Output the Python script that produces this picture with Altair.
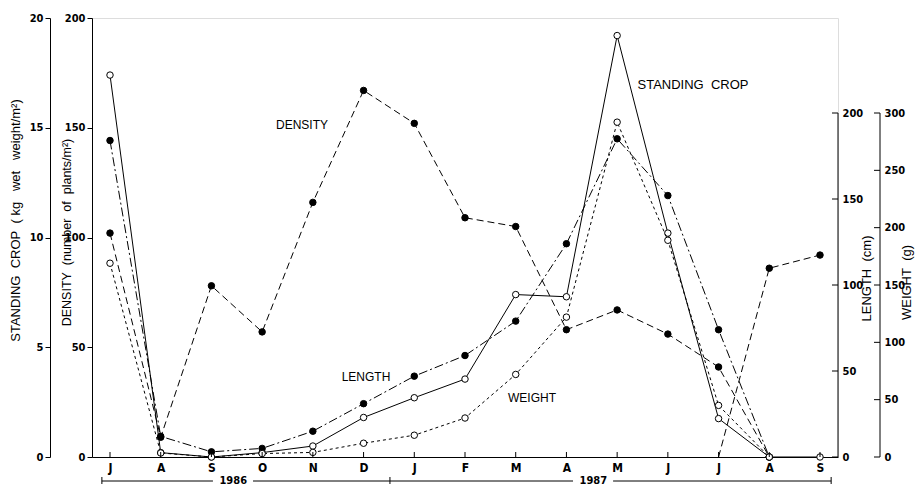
import json
import altair as alt
import pandas as pd

# ---------------- data ----------------
months = ["J", "A", "S", "O", "N", "D", "J", "F", "M", "A", "M", "J", "J", "A", "S"]
standing_crop = [17.4, 0.2, 0.0, 0.2, 0.5, 1.8, 2.7, 3.55, 7.4, 7.3, 19.2, 10.2, 1.75, 0.0, 0.0]
density = [102, 9, 78, 57, 116, 167, 152, 109, 105, 58, 67, 56, 41, 0, None]
density_new = [None] * 12 + [0, 86, 92]
length = [184, 12, 3, 5, 15, 31, 47, 59, 79, 124, 185, 152, 74, 0, None]
weight = [169, 3.5, 0, 3, 4, 12, 19, 34, 72, 122, 292, 189, 45, 0, None]

sc_ticks = [0, 5, 10, 15, 20]
density_ticks = [0, 50, 100, 150, 200]
length_ticks = [0, 50, 100, 150, 200]
weight_ticks = [0, 50, 100, 150, 200, 250, 300]

year_labels = ["1986", "1987"]

# ---------------- layout ----------------
W, H = 746, 439
FONT = "Liberation Sans"
NARROW = "'Liberation Sans Narrow', 'DejaVu Sans Condensed', 'Liberation Sans', sans-serif"
SP = "\u00a0"


def spaced(s, n=2):
    return s.replace(" ", SP * n)


def frame(values, seg=0):
    rows = [{"i": i, "v": v, "seg": seg} for i, v in enumerate(values) if v is not None]
    return pd.DataFrame(rows)


xscale = alt.Scale(domain=[-0.355, 14.355], nice=False, zero=False)
label_expr = "%s[datum.value]" % json.dumps(months)
xaxis = alt.Axis(values=list(range(len(months))), labelExpr=label_expr, ticks=False,
                 grid=False, title=None, domainColor="black", labelPadding=5,
                 labelFontSize=12, labelFont=NARROW, labelFontWeight="bold",
                 labelColor="black")
X = alt.X("i:Q", scale=xscale, axis=xaxis)

common_axis = dict(grid=False, labelFont=NARROW, labelFontSize=11, labelFontWeight="bold",
                   labelColor="black", titleColor="black", titleFont=FONT,
                   titleFontWeight="normal", titleAngle=270, titleAlign="center",
                   titleBaseline="middle", domainColor="black", tickColor="black")

open_pt = dict(shape="circle", filled=True, fill="white", stroke="black",
               strokeWidth=1, size=42, opacity=1)
full_pt = dict(shape="circle", filled=True, fill="black", stroke="black",
               strokeWidth=1, size=42, opacity=1)

# ---- standing crop (solid line, open circles) ----
sc_title = "STANDING" + SP * 2 + "CROP" + SP * 2 + "(" + SP + "kg" + SP * 3 + "wet" + SP * 3 + "weight/m²)"
sc_y = alt.Y("v:Q", scale=alt.Scale(domain=[0, 20], nice=False),
             axis=alt.Axis(orient="left", offset=42, values=sc_ticks, tickSize=5,
                           labelPadding=2, title=sc_title,
                           titleFontSize=13, titleX=-35, titleY=202, **common_axis))
sc_df = frame(standing_crop)
sc_layer = alt.layer(
    alt.Chart(sc_df).mark_line(color="black", strokeWidth=1).encode(x=X, y=sc_y),
    alt.Chart(sc_df).mark_point(**open_pt).encode(x=X, y=sc_y),
)

# ---- density (dashed, filled circles) ----
d_title = "DENSITY" + SP * 2 + "(number" + SP * 2 + "of" + SP * 2 + "plants/m²)"
d_y = alt.Y("v:Q", scale=alt.Scale(domain=[0, 200], nice=False),
            axis=alt.Axis(orient="left", offset=0, values=density_ticks, tickSize=5,
                          labelPadding=2, title=d_title,
                          titleFontSize=12.5, titleX=-26, titleY=214, **common_axis))
d_df = pd.concat([frame(density, 0), frame(density_new, 1)], ignore_index=True)
d_layer = alt.layer(
    alt.Chart(d_df).mark_line(color="black", strokeWidth=1, strokeDash=[7, 4]).encode(
        x=X, y=d_y, detail="seg:N"),
    alt.Chart(d_df).mark_point(**full_pt).encode(x=X, y=d_y).transform_filter(
        "datum.seg == 0 || datum.v > 0"),
)

# ---- length (dash-dot, filled circles), right axis ----
l_scale = alt.Scale(domain=[0, 200 * H / 344], nice=False)
l_y = alt.Y("v:Q", scale=l_scale,
            axis=alt.Axis(orient="right", offset=0, values=length_ticks, domain=False,
                          ticks=False, labelPadding=4, title="LENGTH" + SP * 2 + "(cm)",
                          titleFontSize=13, titleX=28, titleY=260, **common_axis))
l_df = frame(length)
l_layer = alt.layer(
    alt.Chart(l_df).mark_line(color="black", strokeWidth=1, strokeDash=[9, 3, 2, 3]).encode(
        x=X, y=l_y),
    alt.Chart(l_df).mark_point(**full_pt).encode(x=X, y=l_y),
    alt.Chart(pd.DataFrame({"v": [length_ticks[0]], "v2": [length_ticks[-1]]})).mark_rule(
        color="black", strokeWidth=1).encode(y=l_y, y2="v2:Q", x=alt.value(W)),
    alt.Chart(pd.DataFrame({"v": length_ticks})).mark_rule(color="black", strokeWidth=1).encode(
        y=l_y, x=alt.value(W - 6), x2=alt.value(W)),
)

# ---- weight (dotted, open circles), outer right axis ----
w_scale = alt.Scale(domain=[0, 300 * H / 344], nice=False)
w_y = alt.Y("v:Q", scale=w_scale,
            axis=alt.Axis(orient="right", offset=42, values=weight_ticks, domain=False,
                          ticks=False, labelPadding=4, title="WEIGHT" + SP * 2 + "(g)",
                          titleFontSize=13, titleX=26, titleY=264, **common_axis))
w_df = frame(weight)
w_layer = alt.layer(
    alt.Chart(w_df).mark_line(color="black", strokeWidth=1, strokeDash=[3, 3]).encode(
        x=X, y=w_y),
    alt.Chart(w_df).mark_point(**open_pt).encode(x=X, y=w_y),
    alt.Chart(pd.DataFrame({"v": [weight_ticks[0]], "v2": [weight_ticks[-1]]})).mark_rule(
        color="black", strokeWidth=1).encode(y=w_y, y2="v2:Q", x=alt.value(W + 42)),
    alt.Chart(pd.DataFrame({"v": weight_ticks})).mark_rule(color="black", strokeWidth=1).encode(
        y=w_y, x=alt.value(W + 36), x2=alt.value(W + 42)),
)

# ---- month ticks (pointing up into the plot) ----
m_df = pd.DataFrame({"i": list(range(len(months)))})
month_ticks = alt.Chart(m_df).mark_rule(color="black", strokeWidth=1).encode(
    x=X, y=alt.value(H - 5), y2=alt.value(H))

# ---- year brackets under the axis ----
yr_rules_df = pd.DataFrame({"i": [-0.16, 2.82, 5.52, 9.92], "i2": [2.03, 5.52, 9.13, 14.22]})
yr_rules = alt.Chart(yr_rules_df).mark_rule(color="black", strokeWidth=1).encode(
    x=X, x2="i2:Q", y=alt.value(H + 24))
yr_ends_df = pd.DataFrame({"i": [-0.16, 5.52, 14.22]})
yr_ends = alt.Chart(yr_ends_df).mark_rule(color="black", strokeWidth=1).encode(
    x=X, y=alt.value(H + 20), y2=alt.value(H + 27))
yr_text_df = pd.DataFrame({"i": [2.43, 9.53], "t": year_labels})
yr_text = alt.Chart(yr_text_df).mark_text(font=NARROW, fontSize=11, fontWeight="bold",
                                          color="black", baseline="middle").encode(
    x=X, y=alt.value(H + 24), text="t:N")


def label(txt, px, py, size=12):
    return alt.Chart(pd.DataFrame({"t": [txt]})).mark_text(
        font=FONT, fontSize=size, color="black", align="center", baseline="middle").encode(
        x=alt.value(px), y=alt.value(py), text="t:N")


labels = [
    label("DENSITY", 210, 107),
    label("STANDING" + SP * 2 + "CROP", 601, 67, 13),
    label("LENGTH", 274, 359),
    label("WEIGHT", 440, 380),
]

chart = alt.layer(
    sc_layer, d_layer, l_layer, w_layer, month_ticks, yr_rules, yr_ends, yr_text, *labels
).resolve_scale(y="independent").properties(
    width=W, height=H,
    autosize=alt.AutoSizeParams(type="none"),
    padding={"left": 84, "top": 10, "right": 77, "bottom": 29},
).configure_view(stroke=None).configure(background="white")

chart.save("out.html", embed_options={"renderer": "svg", "actions": False})
